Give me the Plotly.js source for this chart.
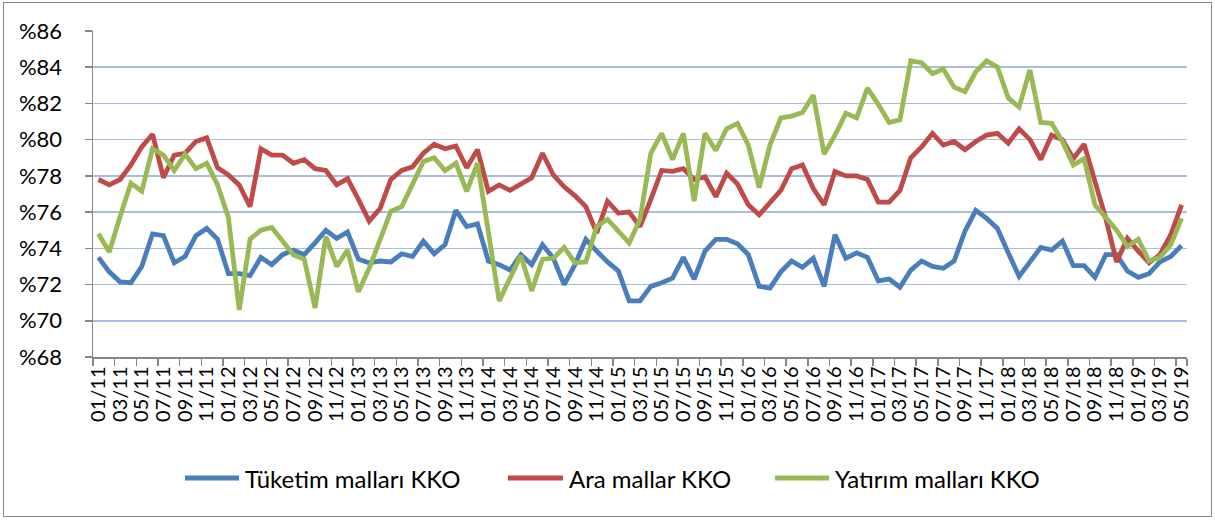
<!DOCTYPE html>
<html>
<head>
<meta charset="utf-8">
<script src="https://cdn.plot.ly/plotly-3.0.1.min.js"></script>
<style>
  html, body { margin: 0; padding: 0; background: #ffffff; }
  #wrap { position: relative; width: 1215px; height: 520px; }
  #chart { width: 1215px; height: 520px; }
  #frame { position: absolute; left: 3px; top: 2px; width: 1207px; height: 513px;
           border: 1.5px solid #8a8a8a; pointer-events: none; }
</style>
</head>
<body>
<div id="wrap">
  <div id="chart"></div>
  <div id="frame"></div>
</div>
<script>
// Months (categories)
const months = [
  "01/11","02/11","03/11","04/11","05/11","06/11","07/11","08/11","09/11","10/11","11/11","12/11",
  "01/12","02/12","03/12","04/12","05/12","06/12","07/12","08/12","09/12","10/12","11/12","12/12",
  "01/13","02/13","03/13","04/13","05/13","06/13","07/13","08/13","09/13","10/13","11/13","12/13",
  "01/14","02/14","03/14","04/14","05/14","06/14","07/14","08/14","09/14","10/14","11/14","12/14",
  "01/15","02/15","03/15","04/15","05/15","06/15","07/15","08/15","09/15","10/15","11/15","12/15",
  "01/16","02/16","03/16","04/16","05/16","06/16","07/16","08/16","09/16","10/16","11/16","12/16",
  "01/17","02/17","03/17","04/17","05/17","06/17","07/17","08/17","09/17","10/17","11/17","12/17",
  "01/18","02/18","03/18","04/18","05/18","06/18","07/18","08/18","09/18","10/18","11/18","12/18",
  "01/19","02/19","03/19","04/19","05/19"
];

// Tick labels (every second month)
const tickLabels = [
  "01/11","03/11","05/11","07/11","09/11","11/11",
  "01/12","03/12","05/12","07/12","09/12","11/12",
  "01/13","03/13","05/13","07/13","09/13","11/13",
  "01/14","03/14","05/14","07/14","09/14","11/14",
  "01/15","03/15","05/15","07/15","09/15","11/15",
  "01/16","03/16","05/16","07/16","09/16","11/16",
  "01/17","03/17","05/17","07/17","09/17","11/17",
  "01/18","03/18","05/18","07/18","09/18","11/18",
  "01/19","03/19","05/19"
];

// Tüketim malları KKO
const tuketim = [
  73.5,72.7,72.15,72.1,73.0,74.8,74.7,73.2,73.55,74.7,75.1,74.5,
  72.6,72.6,72.5,73.5,73.1,73.65,73.9,73.65,74.3,75.0,74.55,74.9,
  73.4,73.2,73.3,73.25,73.7,73.55,74.4,73.7,74.2,76.1,75.2,75.35,
  73.3,73.1,72.8,73.65,73.1,74.2,73.45,72.0,73.1,74.5,73.85,73.25,
  72.75,71.1,71.1,71.9,72.1,72.35,73.5,72.3,73.85,74.5,74.5,74.25,
  73.65,71.9,71.8,72.7,73.3,72.95,73.45,71.9,74.75,73.45,73.75,73.5,
  72.2,72.3,71.85,72.8,73.3,73.0,72.9,73.3,74.95,76.1,75.65,75.1,
  73.75,72.45,73.25,74.05,73.9,74.4,73.05,73.05,72.4,73.65,73.65,72.75,
  72.4,72.6,73.25,73.55,74.15
];

// Ara mallar KKO
const ara = [
  77.8,77.5,77.8,78.6,79.6,80.3,77.9,79.15,79.25,79.9,80.1,78.45,
  78.05,77.5,76.3,79.5,79.15,79.15,78.7,78.9,78.4,78.3,77.5,77.85,
  76.7,75.5,76.2,77.8,78.3,78.5,79.25,79.75,79.5,79.65,78.45,79.45,
  77.15,77.5,77.2,77.55,77.9,79.25,78.05,77.4,76.9,76.3,74.85,76.6,
  75.95,76.0,75.2,76.7,78.3,78.25,78.4,77.8,77.95,76.85,78.15,77.55,
  76.4,75.85,76.5,77.2,78.4,78.6,77.3,76.4,78.25,78.0,78.0,77.8,
  76.55,76.55,77.2,79.0,79.6,80.35,79.7,79.9,79.45,79.9,80.25,80.35,
  79.8,80.6,80.0,78.9,80.25,80.0,78.95,79.75,77.7,75.65,73.25,74.55,
  73.85,73.2,73.65,74.75,76.4
];

// Yatırım malları KKO
const yatirim = [
  74.8,73.8,75.75,77.6,77.15,79.5,79.15,78.3,79.2,78.4,78.7,77.5,
  75.7,70.6,74.5,75.0,75.15,74.4,73.65,73.4,70.7,74.65,73.0,73.9,
  71.6,72.9,74.5,76.05,76.3,77.5,78.8,79.0,78.3,78.7,77.15,78.7,
  74.9,71.1,72.35,73.6,71.65,73.4,73.45,74.05,73.2,73.25,75.2,75.6,
  74.95,74.3,75.6,79.25,80.35,78.9,80.35,76.6,80.35,79.4,80.6,80.9,
  79.7,77.35,79.7,81.2,81.3,81.5,82.45,79.2,80.25,81.45,81.2,82.85,
  81.95,80.95,81.1,84.35,84.25,83.65,83.9,82.9,82.65,83.75,84.35,84.0,
  82.3,81.8,83.85,80.95,80.9,79.9,78.6,78.95,76.4,75.65,75.0,74.1,
  74.5,73.3,73.5,74.2,75.65
];

const seriesNames = ["Tüketim malları KKO", "Ara mallar KKO", "Yatırım malları KKO"];
const seriesColors = ["#4A7EBB", "#BE4B48", "#98B954"];
const seriesValues = [tuketim, ara, yatirim];

const FONT = "Lato, 'Noto Sans', sans-serif";

const traces = seriesValues.map((vals, k) => ({
  type: "scatter",
  mode: "lines",
  x: months,
  y: vals,
  name: seriesNames[k],
  line: { color: seriesColors[k], width: 4.8, shape: "linear" },
  hoverinfo: "x+y+name",
  showlegend: false
}));

// Custom legend placement (paper coordinates of plot area: left 93px, width 1094px, bottom 357px, height 326px)
const PL = 93, PW = 1094, PB = 357, PH = 326;
const px2x = p => (p - PL) / PW;
const py2y = p => (PB - p) / PH;
const legendY = py2y(478);
const legendItems = [
  { lineX0: 185, lineX1: 239, textX: 243 },
  { lineX0: 508, lineX1: 563, textX: 567 },
  { lineX0: 775, lineX1: 829, textX: 833 }
];
const shapes = legendItems.map((it, k) => ({
  type: "line", xref: "paper", yref: "paper",
  x0: px2x(it.lineX0), x1: px2x(it.lineX1), y0: legendY, y1: legendY,
  line: { color: seriesColors[k], width: 5 }
}));
const annotations = legendItems.map((it, k) => ({
  xref: "paper", yref: "paper",
  x: px2x(it.textX), y: legendY,
  xanchor: "left", yanchor: "middle",
  text: seriesNames[k], showarrow: false,
  font: { family: FONT, size: 24, color: "#000000" }
}));

const layout = {
  width: 1215,
  height: 520,
  margin: { l: 93, r: 28, t: 31, b: 163, pad: 0 },
  paper_bgcolor: "#ffffff",
  plot_bgcolor: "#ffffff",
  font: { family: FONT, color: "#000000", size: 20 },
  showlegend: false,
  shapes: shapes,
  annotations: annotations,
  xaxis: {
    type: "category",
    categoryorder: "array",
    categoryarray: months,
    range: [-0.5, months.length - 0.5],
    tickmode: "array",
    tickvals: tickLabels,
    ticktext: tickLabels,
    tickangle: -90,
    tickson: "boundaries",
    ticks: "outside",
    ticklen: 7,
    tickwidth: 1.5,
    tickcolor: "#868686",
    showline: true,
    linecolor: "#868686",
    linewidth: 1.5,
    showgrid: false,
    zeroline: false,
    tickfont: { family: FONT, size: 20, color: "#000000" },
    fixedrange: true
  },
  yaxis: {
    range: [68, 86],
    dtick: 2,
    tick0: 68,
    tickprefix: "%",
    ticks: "outside",
    ticklen: 7,
    tickwidth: 1.5,
    tickcolor: "#868686",
    showline: true,
    linecolor: "#868686",
    linewidth: 1.5,
    showgrid: true,
    gridcolor: "#A6BEE6",
    gridwidth: 1.5,
    zeroline: false,
    ticklabelstandoff: 18,
    tickfont: { family: FONT, size: 22, color: "#000000" },
    fixedrange: true
  }
};

Plotly.newPlot("chart", traces, layout, { displayModeBar: false, staticPlot: true });
</script>
</body>
</html>
